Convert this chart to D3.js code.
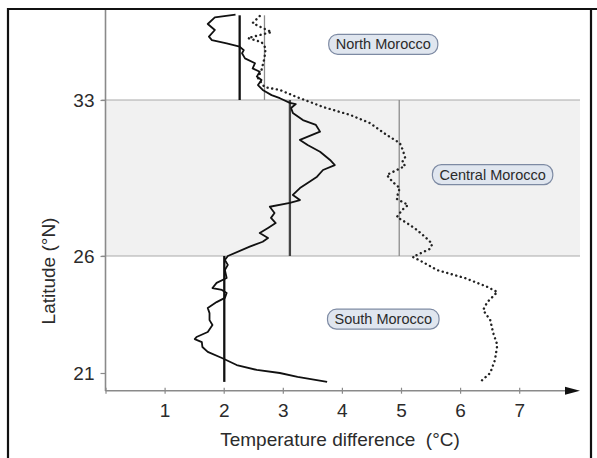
<!DOCTYPE html>
<html>
<head>
<meta charset="utf-8" />
<title>Temperature difference by latitude</title>
<script src="https://cdn.jsdelivr.net/npm/d3@7"></script>
<style>
  body { margin: 0; background: #fff; }
  svg text { font-family: "Liberation Sans", Arial, sans-serif; fill: #2b2b2b; }
</style>
</head>
<body>
<svg id="chart" width="597" height="458"></svg>
<script>
// temperature difference (°C) vs latitude (°N)
var solidProfile = [
  [2.20, 36.83], [1.85, 36.71], [1.73, 36.41], [1.85, 36.14], [1.75, 35.84], [1.80, 35.69],
  [2.05, 35.54], [2.27, 35.39], [2.34, 35.24], [2.31, 35.10], [2.36, 34.87], [2.53, 34.65],
  [2.49, 34.42], [2.61, 34.27], [2.56, 34.05], [2.64, 33.90], [2.58, 33.67], [2.66, 33.45],
  [2.81, 33.22], [2.95, 33.08], [3.12, 32.87], [3.22, 32.82], [3.14, 32.64], [3.17, 32.42],
  [3.34, 32.10], [3.56, 31.88], [3.63, 31.58], [3.29, 31.21], [3.42, 30.98], [3.63, 30.68],
  [3.80, 30.31], [3.88, 30.08], [3.68, 29.86], [3.58, 29.56], [3.42, 29.28], [3.29, 29.05],
  [3.17, 28.74], [3.29, 28.51], [3.12, 28.38], [2.78, 28.21], [2.86, 27.93], [2.80, 27.71],
  [2.88, 27.48], [2.75, 27.26], [2.61, 27.03], [2.75, 26.81], [2.66, 26.64], [2.44, 26.42],
  [2.07, 26.00], [2.02, 25.83], [2.07, 25.62], [2.02, 25.40], [2.05, 25.06], [1.88, 24.85],
  [1.81, 24.63], [1.97, 24.55], [2.05, 24.42], [2.02, 24.21], [1.88, 24.03], [1.73, 23.78],
  [1.76, 23.56], [1.76, 23.26], [1.81, 23.05], [1.73, 22.75], [1.54, 22.54], [1.51, 22.45],
  [1.63, 22.32], [1.64, 22.11], [1.73, 21.90], [1.97, 21.64], [2.22, 21.34], [2.56, 21.13],
  [2.95, 21.00], [3.25, 20.83], [3.75, 20.62]
];

var dottedProfile = [
  [2.61, 36.77], [2.49, 36.45], [2.66, 36.23], [2.81, 36.05], [2.41, 35.78], [2.64, 35.60],
  [2.71, 35.33], [2.69, 34.88], [2.64, 34.35], [2.58, 33.99], [2.69, 33.58], [2.95, 33.45],
  [3.24, 33.13], [3.68, 32.69], [4.14, 32.33], [4.47, 31.97], [4.76, 31.43], [4.98, 31.07],
  [5.03, 30.76], [5.07, 30.40], [5.02, 30.22], [5.07, 30.04], [4.93, 29.86], [4.76, 29.64],
  [4.86, 29.32], [4.98, 29.05], [4.95, 28.83], [4.93, 28.56], [5.12, 28.29], [5.02, 28.07],
  [4.93, 27.75], [5.10, 27.48], [5.27, 27.17], [5.41, 26.85], [5.53, 26.54], [5.49, 26.32],
  [5.20, 25.96], [5.37, 25.74], [5.61, 25.40], [6.08, 25.06], [6.46, 24.68], [6.63, 24.46],
  [6.46, 24.03], [6.39, 23.69], [6.51, 23.26], [6.56, 22.71], [6.63, 22.20], [6.59, 21.56],
  [6.51, 21.00], [6.34, 20.62]
];

// regional means: [temp, latTop, latBottom]
var solidMeans = [[2.27, 36.8, 33], [3.12, 33, 26], [2.01, 26, 20.62]];
var dottedMeans = [[2.69, 36.8, 33], [4.97, 33, 26]];

var regionNames = ["North Morocco", "Central Morocco", "South Morocco"];
var regionLabelPos = [[4.7, 35.5], [6.55, 29.65], [4.7, 23.3]];

var xTicks = [1, 2, 3, 4, 5, 6, 7];
var yTicks = [21, 26, 33];
var central = [33, 26];

var svg = d3.select("#chart");

var x = d3.scaleLinear().domain([0, 8]).range([105.5, 578.3]);
var y = d3.scaleLinear().domain([21, 26, 33]).range([373, 256, 100]);

// frame
svg.append("path")
    .attr("d", "M8,458 V9 H597 M591,9 V458")
    .attr("fill", "none").attr("stroke", "#111").attr("stroke-width", 2.2);

// central band
svg.append("rect")
    .attr("x", x(0)).attr("y", y(central[0]))
    .attr("width", 580 - x(0)).attr("height", y(central[1]) - y(central[0]))
    .attr("fill", "#f1f1f1");
svg.selectAll(".band-line").data(central).enter().append("line")
    .attr("x1", x(0) - 4).attr("x2", 580)
    .attr("y1", function(d) { return y(d); }).attr("y2", function(d) { return y(d); })
    .attr("stroke", "#a9a9a9").attr("stroke-width", 1.2);

// y axis
svg.append("line")
    .attr("x1", x(0)).attr("x2", x(0)).attr("y1", 10).attr("y2", 391)
    .attr("stroke", "#8a8a8a").attr("stroke-width", 1.6);
var yAxis = d3.axisLeft(y).tickValues(yTicks).tickSize(5).tickPadding(6);
var gy = svg.append("g").attr("transform", "translate(" + x(0) + ",0)").call(yAxis);
gy.select(".domain").remove();
gy.selectAll("line").attr("stroke", "#8a8a8a").attr("stroke-width", 1.2);
gy.selectAll("text").style("font-size", "19px").attr("fill", "#2b2b2b");

// x axis
var axisY = 390.7;
var xAxis = d3.axisBottom(x).tickValues([0].concat(xTicks)).tickSize(3).tickPadding(10)
    .tickFormat(function(d) { return d === 0 ? "" : d; });
var gx = svg.append("g").attr("transform", "translate(0," + axisY + ")").call(xAxis);
gx.select(".domain").remove();
gx.selectAll("line").attr("stroke", "#8a8a8a").attr("stroke-width", 1.2).attr("y1", -3);
gx.selectAll("text").style("font-size", "19px").attr("fill", "#2b2b2b");
svg.append("line")
    .attr("x1", x(0)).attr("x2", 568).attr("y1", axisY).attr("y2", axisY)
    .attr("stroke", "#8a8a8a").attr("stroke-width", 1.6);
svg.append("path")
    .attr("d", "M565," + (axisY - 4) + " L580," + axisY + " L565," + (axisY + 4) + " Z")
    .attr("fill", "#111");

// axis titles
svg.append("text")
    .attr("transform", "translate(55,271) rotate(-90)")
    .attr("text-anchor", "middle")
    .style("font-size", "19px")
    .text("Latitude (°N)");
svg.append("text")
    .attr("x", 340).attr("y", 446)
    .attr("text-anchor", "middle")
    .style("font-size", "19px")
    .attr("xml:space", "preserve")
    .text("Temperature difference  (°C)");

// mean lines
svg.selectAll(".dmean").data(dottedMeans).enter().append("line")
    .attr("x1", function(d) { return x(d[0]); }).attr("x2", function(d) { return x(d[0]); })
    .attr("y1", function(d) { return y(d[1]); }).attr("y2", function(d) { return y(d[2]); })
    .attr("stroke", "#8c8c8c").attr("stroke-width", 1.3);
svg.selectAll(".smean").data(solidMeans).enter().append("line")
    .attr("x1", function(d) { return x(d[0]); }).attr("x2", function(d) { return x(d[0]); })
    .attr("y1", function(d) { return y(d[1]); }).attr("y2", function(d) { return y(d[2]); })
    .attr("stroke", function(d, i) { return i === 1 ? "#444" : "#111"; })
    .attr("stroke-width", 2.3);

// profiles
var line = d3.line()
    .x(function(d) { return x(d[0]); })
    .y(function(d) { return y(d[1]); });
svg.append("path").datum(dottedProfile)
    .attr("d", line).attr("fill", "none")
    .attr("stroke", "#222").attr("stroke-width", 2.4)
    .attr("stroke-linecap", "round").attr("stroke-dasharray", "0.1,4.6");
svg.append("path").datum(solidProfile)
    .attr("d", line).attr("fill", "none")
    .attr("stroke", "#111").attr("stroke-width", 1.8)
    .attr("stroke-linejoin", "round");

// region labels
regionNames.forEach(function(name, i) {
  var g = svg.append("g");
  var cx = x(regionLabelPos[i][0]), cy = y(regionLabelPos[i][1]);
  var rect = g.append("rect").attr("fill", "#e0e6ef").attr("stroke", "#7d8aa3").attr("stroke-width", 1.2);
  var t = g.append("text").attr("x", cx).attr("y", cy + 5)
      .attr("text-anchor", "middle").style("font-size", "14.5px").attr("fill", "#333")
      .text(name);
  var w = t.node().getComputedTextLength() + 14;
  rect.attr("x", cx - w / 2).attr("y", cy - 10).attr("width", w).attr("height", 20)
      .attr("rx", 9).attr("ry", 9);
});
</script>
</body>
</html>
